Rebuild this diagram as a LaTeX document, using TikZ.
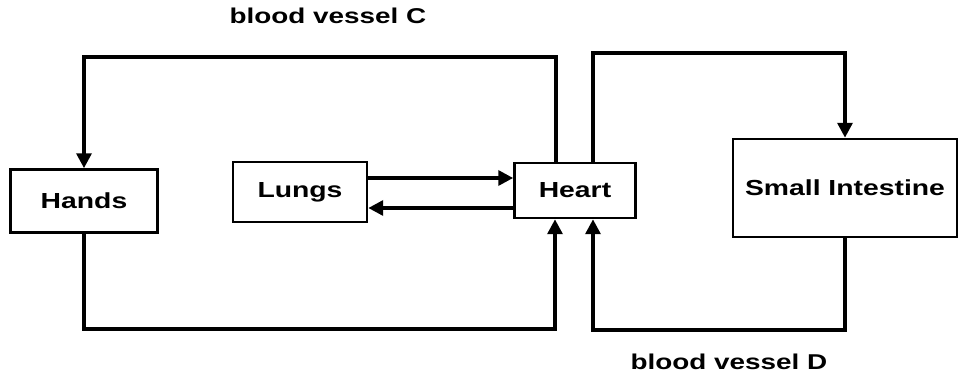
\documentclass[tikz,border=0pt]{standalone}
\usepackage{fontspec}
\newfontfamily\labelfont[FakeStretch=1.3]{Liberation Sans Bold}
\usetikzlibrary{arrows.meta}
\begin{document}
\begin{tikzpicture}[x=0.02cm,y=-0.02cm,
    organ/.style={draw,line width=1.5pt,inner sep=0pt,
      font=\labelfont\fontsize{12.4pt}{14pt}\selectfont},
    vessel/.style={font=\labelfont\fontsize{12.2pt}{14pt}\selectfont},
    flow/.style={line width=2pt,-{Triangle[length=8.5pt,width=8.5pt]}}]
  \useasboundingbox (0,0) rectangle (961,378);
  % organi
  \node[organ,minimum width=2.94cm,minimum height=1.26cm] (hands) at (84,201) {Hands};
  \node[organ,minimum width=2.68cm,minimum height=1.2cm] (lungs) at (300,192) {Lungs};
  \node[organ,minimum width=2.42cm,minimum height=1.1cm] (heart) at (575,190.5) {Heart};
  \node[organ,minimum width=4.48cm,minimum height=1.96cm] (intestine) at (845,188) {Small Intestine};
  % vasi sanguigni
  \coordinate (cL) at (556,57);
  \coordinate (cR) at (593,53);
  \coordinate (dL) at (555,329);
  \coordinate (dR) at (593,330);
  \draw[flow] (heart.north -| cL) -- (cL) -| (hands.north);
  \draw[flow] (heart.north -| cR) -- (cR) -| (intestine.north);
  \draw[flow] (hands.south) |- (dL) -- (heart.south -| dL);
  \draw[flow] (intestine.south) |- (dR) -- (heart.south -| dR);
  \draw[flow] (lungs.east |- 0,178) -- (heart.west |- 0,178);
  \draw[flow] (heart.west |- 0,208) -- (lungs.east |- 0,208);
  \node[vessel] (vesselC) at (328,16) {blood vessel C};
  \node[vessel] (vesselD) at (729,362) {blood vessel D};
\end{tikzpicture}
\end{document}
